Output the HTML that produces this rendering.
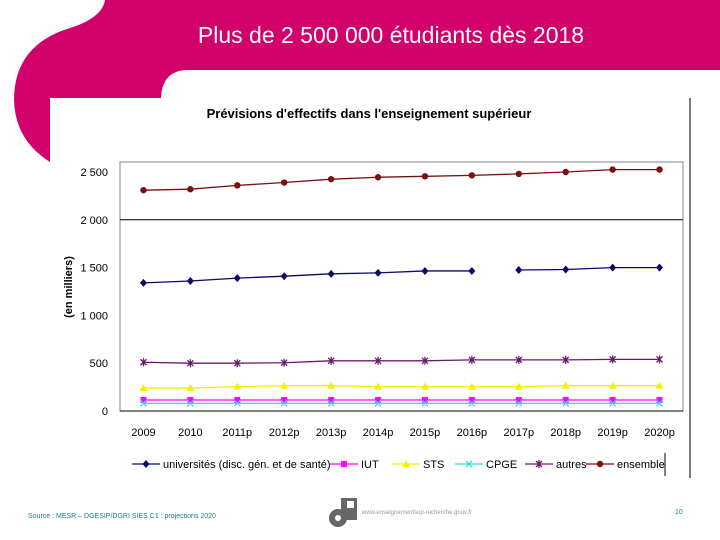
<!DOCTYPE html>
<html><head><meta charset="utf-8"><style>
body{margin:0;width:720px;height:540px;background:#fff;overflow:hidden;font-family:"Liberation Sans",sans-serif}
svg{position:absolute;left:0;top:0}
</style></head><body>
<svg width="720" height="540">
<path fill="#d1006b" d="M105,0 L720,0 L720,70 L185,70 Q162,72 161,98 L50,98 L50,162 Q15,140 14,100 Q14,45 70,28 Q102,18 105,0 Z"/>
<text x="391" y="43" font-size="23" fill="#fff" text-anchor="middle">Plus de 2 500 000 étudiants dès 2018</text>
<line x1="690" y1="98" x2="690" y2="478" stroke="#000"/>
<text x="369" y="118" font-size="13" font-weight="bold" text-anchor="middle">Prévisions d'effectifs dans l'enseignement supérieur</text>
<g id="chart"></g>
<text x="28" y="518" font-size="7" fill="#1a7a8a">Source : MESR – DGESIP/DGRI SIES C1 : projections 2020</text>
<g fill="#666"><rect x="341" y="498" width="16" height="22"/><circle cx="338" cy="518" r="9"/><circle cx="338" cy="518" r="3" fill="#fff"/><rect x="347" y="501" width="7" height="7" fill="#fff"/></g>
<text x="362" y="514" font-size="6" fill="#999">www.enseignementsup-recherche.gouv.fr</text>
<text x="675" y="514" font-size="7" fill="#1a7a8a">10</text>
</svg>
<script>
const categories=["2009","2010","2011p","2012p","2013p","2014p","2015p","2016p","2017p","2018p","2019p","2020p"];
const universites=[1340,1360,1390,1410,1435,1445,1465,1465,1475,1480,1500,1500];
const iut=[115,115,115,115,115,115,115,115,115,115,115,115];
const sts=[240,240,255,265,265,255,255,255,255,265,265,265];
const cpge=[80,80,80,80,80,80,80,80,80,80,80,80];
const autres=[510,500,500,505,525,525,525,535,535,535,540,540];
const ensemble=[2310,2320,2360,2390,2425,2445,2455,2465,2480,2500,2525,2525];
const yTicks=[0,500,1000,1500,2000,2500];
const yTickLabels=["0","500","1 000","1 500","2 000","2 500"];
const NS="http://www.w3.org/2000/svg";
const g=document.getElementById('chart');
const L=120,R=683,T=162,B=411;
const x=i=>L+(i+0.5)*(R-L)/categories.length;
const y=v=>B-v*(B-172)/2500;
function el(t,a,p){const e=document.createElementNS(NS,t);for(const k in a)e.setAttribute(k,a[k]);(p||g).appendChild(e);return e;}
const frame=el('rect',{x:L,y:T,width:R-L,height:B-T,fill:'none',stroke:'#888'});


yTicks.forEach((t,i)=>{
 if(t===2000){const gl=el('line',{x1:L,x2:R,y1:y(t),y2:y(t),stroke:'#000'});
 
 }
 const tx=el('text',{x:L-12,y:y(t)+4,'font-size':11,'text-anchor':'end'});tx.textContent=yTickLabels[i];
 
 
});
const ax=el('line',{x1:L,x2:R,y1:B,y2:B,stroke:'#000'});


categories.forEach((c,i)=>{const t=el('text',{x:x(i),y:B+25,'font-size':11,'text-anchor':'middle'});t.textContent=c;
 
 });
const yt=el('text',{transform:'translate(72,287) rotate(-90)','font-size':11,'font-weight':'bold','text-anchor':'middle'});yt.textContent='(en milliers)';


function marker(type,cx,cy,col,p){
 if(type==='diamond')el('path',{d:`M${cx},${cy-4}L${cx+3.5},${cy}L${cx},${cy+4}L${cx-3.5},${cy}Z`,fill:col},p);
 else if(type==='square')el('rect',{x:cx-3,y:cy-3,width:6,height:6,fill:col},p);
 else if(type==='triangle')el('path',{d:`M${cx},${cy-4}L${cx+4},${cy+3}L${cx-4},${cy+3}Z`,fill:col},p);
 else if(type==='x')el('path',{d:`M${cx-3},${cy-3}L${cx+3},${cy+3}M${cx+3},${cy-3}L${cx-3},${cy+3}`,stroke:col,'stroke-width':1.3},p);
 else if(type==='star')el('path',{d:`M${cx-3},${cy-3}L${cx+3},${cy+3}M${cx+3},${cy-3}L${cx-3},${cy+3}M${cx},${cy-4}L${cx},${cy+4}`,stroke:col,'stroke-width':1.3},p);
 else el('circle',{cx,cy,r:3.2,fill:col},p);
}
const series=[
 {n:'universités (disc. gén. et de santé)',d:universites,c:'#0a0a6a',m:'diamond',k:'universites',gap:7},
 {n:'IUT',d:iut,c:'#ff00ff',m:'square',k:'iut'},
 {n:'STS',d:sts,c:'#f5f000',m:'triangle',k:'sts'},
 {n:'CPGE',d:cpge,c:'#33dddd',m:'x',k:'cpge'},
 {n:'autres',d:autres,c:'#6a1a6a',m:'star',k:'autres'},
 {n:'ensemble',d:ensemble,c:'#7a1010',m:'circle',k:'ensemble'}];
series.forEach(s=>{
 const sg=el('g',{});
 
 
 let d='';s.d.forEach((v,i)=>{d+=(i===0||(s.gap===i-1)?'M':'L')+x(i)+','+y(v);});
 el('path',{d,fill:'none',stroke:s.c,'stroke-width':1.3},sg);
 s.d.forEach((v,i)=>marker(s.m,x(i),y(v),s.c,sg));
});
const lx=[132,330,392,455,525,586],tw=[210,38,40,52,40,52];
series.forEach((s,i)=>{
 const lg=el('g',{});
 
 
 el('line',{x1:lx[i],x2:lx[i]+28,y1:464,y2:464,stroke:s.c,'stroke-width':1.3},lg);
 marker(s.m,lx[i]+14,464,s.c,lg);
 const t=el('text',{x:lx[i]+31,y:468,'font-size':11},lg);t.textContent=s.n;
});
const lb=el('line',{x1:665,x2:665,y1:453,y2:476,stroke:'#000'});


</script>
</body></html>
